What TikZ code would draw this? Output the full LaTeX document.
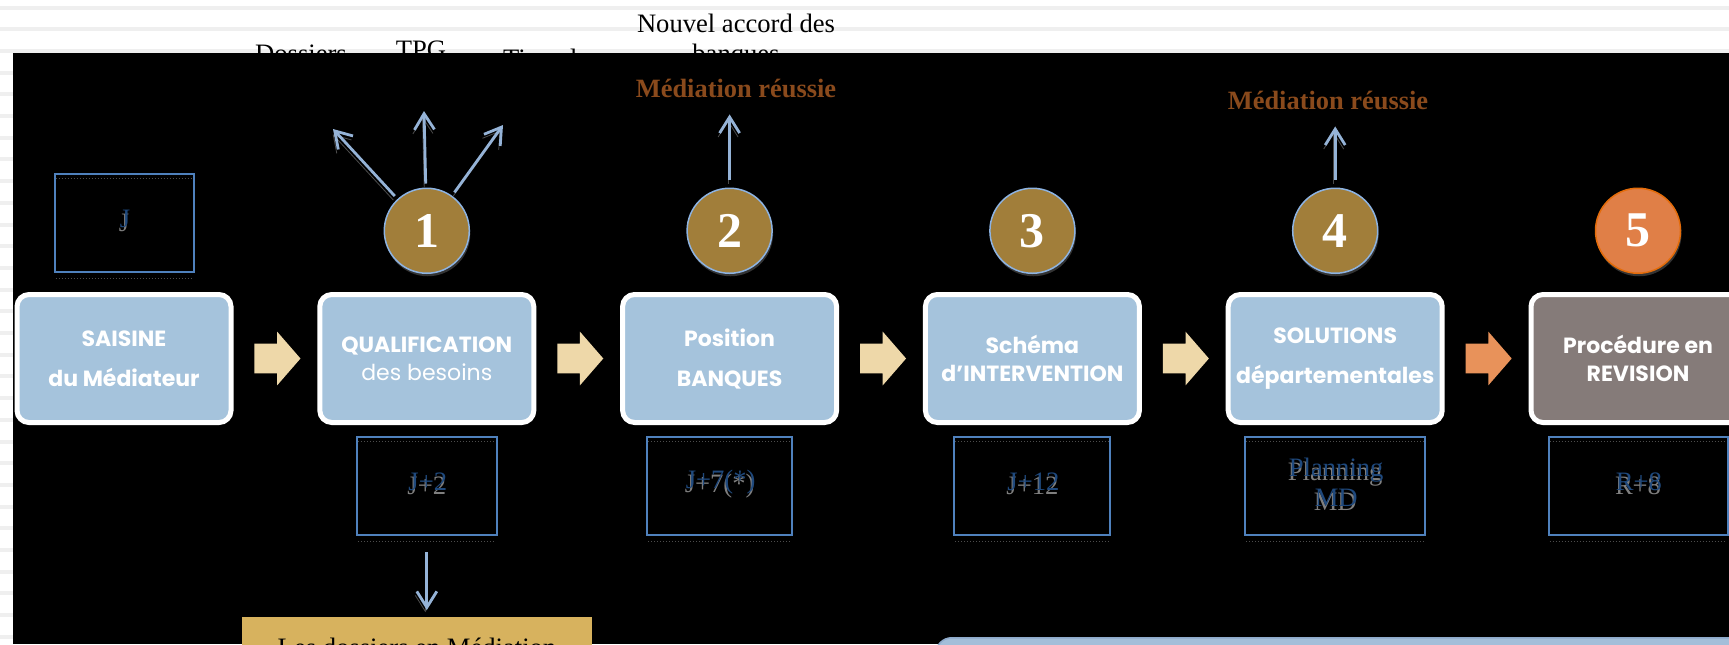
\documentclass[tikz,border=0pt]{standalone}
\usepackage{fontspec}
\setmainfont{Liberation Serif}
\newfontfamily\boxfont{Poppins}
\usetikzlibrary{calc,
positioning,
shapes.geometric,
shapes.arrows,
arrows.meta}

\definecolor{stripegrey}{HTML}{EFEFEF}
\definecolor{boxblue}{HTML}{A5C3DC}
\definecolor{procgrey}{HTML}{857B79}
\definecolor{medal}{HTML}{A17E3A}
\definecolor{ringblue}{HTML}{8DB3E2}
\definecolor{medalorange}{HTML}{E07F47}
\definecolor{ringorange}{HTML}{E46C0A}
\definecolor{flowbeige}{HTML}{EED8A9}
\definecolor{floworange}{HTML}{E8925A}
\definecolor{arrowblue}{HTML}{95B3D7}
\definecolor{timeblue}{HTML}{4F81BD}
\definecolor{stampgrey}{HTML}{7F7F7F}
\definecolor{stampblue}{HTML}{1F497D}
\definecolor{goldbox}{HTML}{D7B25E}
\definecolor{okbrown}{HTML}{8A4A1C}
\definecolor{noteblue}{HTML}{A3BED9}
\definecolor{notedraw}{HTML}{8EAACB}

\begin{document}
\begin{tikzpicture} [x=0.5pt, y=-0.5pt,
    every node/.style={font=\fontsize{13.3}{15}\selectfont},
    main node/.style={rectangle, rounded corners=6pt, draw=white, line width=2.5pt,
        fill=boxblue, minimum width=107pt, minimum height=64pt, align=center,
        text=white, font=\boxfont\fontsize{11}{14}\selectfont\bfseries},
    num node/.style={circle, draw=ringblue, line width=0.75pt, fill=medal,
        minimum size=42.5pt, inner sep=0pt, text=white,
        font=\fontsize{25}{25}\selectfont\bfseries,
        preaction={fill=black!80, transform canvas={xshift=0.5pt, yshift=-1.5pt}}},
    time node/.style={rectangle, draw=timeblue, line width=1pt, minimum height=49pt,
        text=stampgrey, align=center},
    twin/.style={label={[text=stampblue, align=center, xshift=0.5pt, yshift=2pt]center:#1}},
    flow arrow/.style={single arrow, fill=flowbeige, minimum height=23pt,
        inner xsep=0pt, inner ysep=7.25pt, xshift=-2.2pt,
        single arrow head extend=6pt, single arrow tip angle=98},
    up arrow/.style={draw=arrowblue, line width=1.4pt,
        -{Straight Barb[length=8pt, width=10pt]},
        preaction={draw=black!70, transform canvas={xshift=-0.75pt, yshift=-2pt}}},
    ok node/.style={text=okbrown, font=\fontsize{13.2}{15}\selectfont\bfseries}]

  \useasboundingbox (0,0) rectangle (1729,644);
  \clip (0,0) rectangle (1729,644);

  % lined paper behind the slide
  \fill[white] (0,0) rectangle (1729,644);
  \foreach \k in {0,...,29}
    \draw[stripegrey, line width=2pt] (0,7.5+21.7*\k) -- (1729,7.5+21.7*\k);

  \node [anchor=base] (dossiers) at (301,62) {Dossiers};
  \node [anchor=base] (tpg) at (421,58) {TPG};
  \node [anchor=base west] (tiers) at (496,67) {Tiers de};
  \node [anchor=north, align=center, inner sep=0pt] (accord) at (736,14) {Nouvel accord des\\banques};

  % the slide itself
  \fill[black] (13,53) rectangle (1729,644);

  \foreach \i/\col/\txt in {0/boxblue/{SAISINE\\[6pt]du Médiateur},
      1/boxblue/{QUALIFICATION\\{\mdseries des besoins}},
      2/boxblue/{Position\\[6pt]BANQUES},
      3/boxblue/{Schéma\\d’INTERVENTION},
      4/boxblue/{SOLUTIONS\\[6pt]départementales},
      5/procgrey/{Procédure en\\REVISION}}{
      \node [main node, fill=\col] (box\i) at (124 + \i*302.8, 358.5) {\txt};
    }

  \foreach \i/\j in {0/1,1/2,2/3,3/4}
    \node [flow arrow] (fa\i) at ($(box\i.east)!.5!(box\j.west)$) {};
  \node [flow arrow, fill=floworange] (fa4) at ($(box4.east)!.5!(box5.west)$) {};

  \foreach \i in {1,...,4}
    \node [num node, above=9pt of box\i] (c\i) {\i};
  \node [num node, fill=medalorange, draw=ringorange, above=9pt of box5] (c5) {5};

  % delays
  \node [time node, minimum width=69.5pt, twin=J, above=9.5pt of box0] (tj) {J};
  \node [time node, minimum width=70pt, twin=J+2, below=5.5pt of box1] (t2) {J+2};
  \node [time node, minimum width=72.5pt, twin=J+7(*), below=5.5pt of box2, xshift=-5pt] (t7) {J+7(*)};
  \node [time node, minimum width=78pt, twin=J+12, below=5.5pt of box3] (t12) {J+12};
  \node [time node, minimum width=90pt, twin={Planning\\MD}, below=5.5pt of box4] (tmd) {Planning\\MD};
  \node [time node, minimum width=89.5pt, twin=R+8, below=5.5pt of box5] (tr8) {R+8};

  \foreach \t in {tj,t2,t7,t12,tmd,tr8}{
      \draw [black!70, line width=0.5pt, densely dotted] ($(\t.north west) + (2,5)$) -- ($(\t.north east) + (-2,5)$);
      \draw [black!70, line width=0.5pt, densely dotted] ($(\t.south west) + (2,5)$) -- ($(\t.south east) + (-2,5)$);
    }

  \node [ok node] (ok2) at (736,88) {Médiation réussie};
  \node [ok node] (ok4) at (1328,100) {Médiation réussie};

  \coordinate (tipd) at (333,129);
  \coordinate (tipt) at (424,111);
  \coordinate (tipr) at (503,125);

  \draw [up arrow, shorten <=2pt] (c1) -- (tipd);
  \draw [up arrow, shorten <=2pt] (c1) -- (tipt);
  \draw [up arrow, shorten <=2pt] (c1) -- (tipr);
  \draw [up arrow, shorten <=4pt, shorten >=5pt] (c2.north) -- (c2.north |- ok2.south);
  \draw [up arrow, shorten <=4pt, shorten >=5pt] (c4.north) -- (c4.north |- ok4.south);

  \node [fill=goldbox, minimum width=175pt, minimum height=30pt, inner ysep=8pt,
    anchor=north] (gold) at (417,617) {Les dossiers en Médiation};
  \draw [up arrow, shorten <=8pt, shorten >=3.5pt] (t2.south) -- (t2.south |- gold.north);

  \node [fill=noteblue, draw=notedraw, line width=0.75pt, rounded corners=8pt,
    minimum width=420pt, minimum height=40pt, anchor=north west] (note) at (935,637) {};

\end{tikzpicture}
\end{document}
